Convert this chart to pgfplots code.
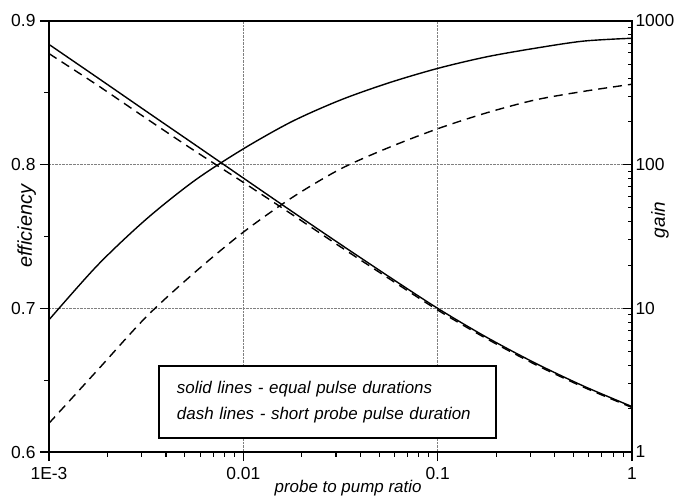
\documentclass[border=0pt]{standalone}
\usepackage{fontspec}
\setmainfont{Liberation Sans}
\usepackage{pgfplots}
\pgfplotsset{compat=1.18}
\newcommand\tl{\fontsize{17.5}{17.5}\selectfont}
\tikzset{
  curve/.style={black, line width=1.4bp},
  dashcurve/.style={black, line width=1.4bp, dash pattern=on 9bp off 6bp},
}

\begin{document}
\begin{tikzpicture}
% efficiency (left axis)
\begin{axis}[
  width=583bp, height=431bp, scale only axis,
  at={(0,0)}, anchor=south west,
  xmode=log, xmin=1e-3, xmax=1,
  ymin=0.6, ymax=0.9,
  major tick length=9bp, minor tick length=4.5bp,
  tick style={black, line width=1.1bp},
  axis line style={line width=1.8bp},
  ytick={0.6,0.7,0.8,0.9}, yticklabels={{\tl 0.6},{\tl 0.7},{\tl 0.8},{\tl 0.9}},
  minor ytick={0.65,0.75,0.85},
  xtick={0.001,0.01,0.1,1}, xticklabels={{\tl 1E-3},{\tl 0.01},{\tl 0.1},{\tl 1}},
  minor xtick={0.002,0.003,0.004,0.005,0.006,0.007,0.008,0.009,
               0.02,0.03,0.04,0.05,0.06,0.07,0.08,0.09,
               0.2,0.3,0.4,0.5,0.6,0.7,0.8,0.9},
  xtick pos=left, ytick pos=left, tick align=outside,
  xticklabel style={yshift=-3bp}, yticklabel style={xshift=-1bp},
  grid=major, major grid style={densely dotted, gray, line width=0.7bp},
  ylabel style={at={(axis description cs:-0.038,0.524)}, anchor=center},
  xlabel style={at={(axis description cs:0.513,-0.0835)}, anchor=center},
  ylabel={\fontsize{20}{20}\selectfont\itshape efficiency},
  xlabel={\fontsize{17}{17}\selectfont\itshape probe to pump ratio},
]
\addplot[curve, smooth] coordinates {
  (0.001,0.692)(0.001778,0.730)(0.003162,0.762)(0.005623,0.789)(0.01,0.811)
  (0.01778,0.830)(0.03162,0.845)(0.05623,0.857)(0.1,0.867)(0.1778,0.875)
  (0.3162,0.881)(0.5623,0.886)(1,0.888)};
\addplot[dashcurve, smooth] coordinates {
  (0.001,0.620)(0.001778,0.657)(0.003162,0.694)(0.005623,0.725)(0.01,0.753)
  (0.01778,0.777)(0.03162,0.797)(0.05623,0.812)(0.1,0.825)(0.1778,0.836)
  (0.3162,0.845)(0.5623,0.851)(1,0.856)};
\node[draw, line width=1.5bp, fill=white, align=left, text width=301bp,
      inner xsep=18bp, inner ysep=0pt, minimum height=72bp,
      font=\fontsize{17}{26}\selectfont\itshape]
  at (rel axis cs:0.4777,0.116)
  {solid lines - equal pulse durations\\dash lines - short probe pulse duration};
\end{axis}

% gain (right axis)
\begin{axis}[
  width=583bp, height=431bp, scale only axis,
  at={(0,0)}, anchor=south west,
  xmode=log, xmin=1e-3, xmax=1,
  ymode=log, ymin=1, ymax=1000,
  major tick length=9bp, minor tick length=4.5bp,
  tick style={black, line width=1.1bp},
  axis line style={line width=1.8bp},
  axis x line=none, axis y line*=right,
  ytick={1,10,100,1000}, yticklabels={{\tl 1},{\tl 10},{\tl 100},{\tl 1000}},
  minor ytick={2,3,4,5,6,7,8,9,20,30,40,50,60,70,80,90,200,300,400,500,600,700,800,900},
  tick align=inside,
  ylabel style={at={(axis description cs:1.048,0.538)}, anchor=center},
  ylabel={\fontsize{19}{19}\selectfont\itshape gain},
]
\addplot[curve, smooth] coordinates {
  (0.001,687)(0.001778,403)(0.003162,235.5)(0.005623,138)(0.01,80.7)
  (0.01778,47.3)(0.03162,27.9)(0.05623,16.6)(0.1,10)(0.1778,6.31)
  (0.3162,4.17)(0.5623,2.88)(1,2.07)};
\addplot[dashcurve, smooth] coordinates {
  (0.001,593)(0.001778,357)(0.003162,210)(0.005623,124.7)(0.01,75.3)
  (0.01778,45.1)(0.03162,26.8)(0.05623,16.1)(0.1,9.73)(0.1778,6.17)
  (0.3162,4.08)(0.5623,2.83)(1,2.04)};
\end{axis}
\pgfresetboundingbox
\path (-49bp,-47bp) rectangle (629bp,452bp);
\end{tikzpicture}
\end{document}
